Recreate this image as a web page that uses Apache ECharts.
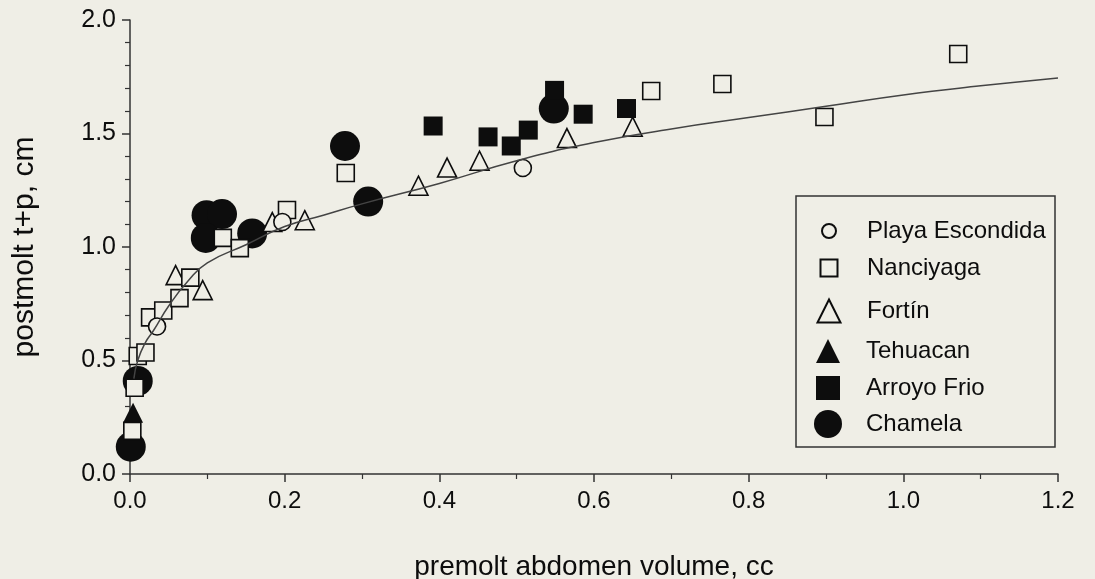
<!DOCTYPE html>
<html>
<head>
<meta charset="utf-8">
<script src="https://cdn.jsdelivr.net/npm/echarts@6/dist/echarts.min.js"></script>
<style>
    html, body { margin: 0; padding: 0; background: #efeee6; }
    #main { width: 1095px; height: 579px; }
</style>
</head>
<body>
<div id="main"></div>
<script type="text/javascript">
    // points: [premolt abdomen volume, postmolt t+p]
    var playaEscondida = [[0.035, 0.65], [0.197, 1.11], [0.508, 1.348]];
    var nanciyaga = [[0.003, 0.19], [0.006, 0.38], [0.010, 0.52], [0.020, 0.535], [0.026, 0.69],
        [0.043, 0.72], [0.064, 0.775], [0.078, 0.865], [0.120, 1.04], [0.142, 0.995],
        [0.203, 1.163], [0.279, 1.326], [0.674, 1.687], [0.766, 1.718], [0.898, 1.573], [1.071, 1.85]];
    var fortin = [[0.059, 0.876], [0.094, 0.81], [0.184, 1.11], [0.226, 1.118], [0.373, 1.27],
        [0.410, 1.35], [0.452, 1.38], [0.565, 1.48], [0.650, 1.53]];
    var tehuacan = [[0.004, 0.27]];
    var arroyoFrio = [[0.392, 1.533], [0.463, 1.485], [0.493, 1.445], [0.515, 1.515],
        [0.549, 1.69], [0.586, 1.585], [0.642, 1.61]];
    var chamela = [[0.001, 0.12], [0.010, 0.41], [0.099, 1.14], [0.119, 1.145], [0.098, 1.04],
        [0.158, 1.06], [0.278, 1.445], [0.308, 1.20], [0.548, 1.61]];

    // fitted curve, read at these x positions
    var curveX = [0.005, 0.01, 0.02, 0.03, 0.05, 0.075, 0.1, 0.15, 0.2, 0.25, 0.3,
        0.4, 0.5, 0.6, 0.7, 0.8, 0.9, 1.0, 1.1, 1.2];
    var curveY = [0.42, 0.50, 0.58, 0.63, 0.74, 0.85, 0.93, 1.01, 1.09, 1.14, 1.19,
        1.28, 1.38, 1.46, 1.52, 1.57, 1.62, 1.67, 1.71, 1.745];

    var xTicks = [0, 0.2, 0.4, 0.6, 0.8, 1.0, 1.2];
    var yTicks = [0, 0.5, 1.0, 1.5, 2.0];

    var bg = '#efeee6';
    var ink = '#0d0d0d';
    var font = '"Liberation Sans", Arial, sans-serif';

    var curve = [];
    for (var i = 0; i < curveX.length; i++) {
        curve.push([curveX[i], curveY[i]]);
    }

    var openStyle = {color: bg, borderColor: ink, borderWidth: 1.6, opacity: 1};
    var solidStyle = {color: ink, borderWidth: 0, opacity: 1};

    // one legend per entry so each icon can keep its own size
    var legendRows = [
        {name: 'Playa Escondida', size: 14, y: 231},
        {name: 'Nanciyaga', size: 17, y: 268},
        {name: 'Fortín', size: 23, y: 311},
        {name: 'Tehuacan', size: 24, y: 351},
        {name: 'Arroyo Frio', size: 24, y: 388},
        {name: 'Chamela', size: 28, y: 424}
    ];
    var legends = legendRows.map(function (r) {
        var left = 828 - r.size / 2;
        return {
            data: [r.name],
            left: left,
            top: r.y - 15,
            padding: 0,
            itemWidth: r.size,
            itemHeight: r.size,
            selectedMode: false,
            textStyle: {
                fontFamily: font, fontSize: 24, color: ink, lineHeight: 30,
                padding: [0, 0, 0, 866 - (left + r.size + 5)]
            }
        };
    });

    var myChart = echarts.init(document.getElementById('main'));
    option = {
        backgroundColor: bg,
        animation: false,
        grid: {left: 130, right: 37, top: 20, bottom: 105, outerBoundsMode: 'none'},
        legend: legends,
        graphic: [{
            type: 'rect',
            shape: {x: 796, y: 196, width: 259, height: 251},
            style: {fill: 'none', stroke: '#333', lineWidth: 1.5}
        }],
        xAxis: {
            type: 'value', min: 0, max: 1.2, interval: 0.2,
            name: 'premolt abdomen volume, cc', nameLocation: 'middle', nameGap: 79,
            nameTextStyle: {fontFamily: font, fontSize: 28, color: ink},
            axisLine: {show: true, onZero: false, lineStyle: {color: '#333', width: 1.5}},
            axisTick: {show: true, length: 8, lineStyle: {color: '#333', width: 1.5}},
            minorTick: {show: true, splitNumber: 2, length: 5, lineStyle: {color: '#333', width: 1.2}},
            splitLine: {show: false},
            axisLabel: {
                fontFamily: font, fontSize: 24, color: ink, margin: 15,
                formatter: function (v) {
                    return xTicks.indexOf(v) >= 0 ? v.toFixed(1) : '';
                }
            }
        },
        yAxis: {
            type: 'value', min: 0, max: 2, interval: 0.5,
            name: 'postmolt t+p, cm', nameLocation: 'middle', nameGap: 90,
            nameTextStyle: {fontFamily: font, fontSize: 30, color: ink},
            axisLine: {show: true, onZero: false, lineStyle: {color: '#333', width: 1.5}},
            axisTick: {show: true, length: 8, lineStyle: {color: '#333', width: 1.5}},
            minorTick: {show: true, splitNumber: 5, length: 5, lineStyle: {color: '#333', width: 1.2}},
            splitLine: {show: false},
            axisLabel: {
                fontFamily: font, fontSize: 25, color: ink, margin: 14,
                formatter: function (v) {
                    return yTicks.indexOf(v) >= 0 ? v.toFixed(1) : '';
                }
            }
        },
        series: [
            {name: 'Chamela', type: 'scatter', symbol: 'circle', symbolSize: 30, data: chamela, itemStyle: solidStyle, z: 2},
            {name: 'Arroyo Frio', type: 'scatter', symbol: 'rect', symbolSize: 19, data: arroyoFrio, itemStyle: solidStyle, z: 3},
            {name: 'Tehuacan', type: 'scatter', symbol: 'triangle', symbolSize: 20, data: tehuacan, itemStyle: solidStyle, z: 3},
            {name: 'Fortín', type: 'scatter', symbol: 'triangle', symbolSize: 19, data: fortin, itemStyle: openStyle, z: 4},
            {name: 'Nanciyaga', type: 'scatter', symbol: 'rect', symbolSize: 17, data: nanciyaga, itemStyle: openStyle, z: 4},
            {name: 'Playa Escondida', type: 'scatter', symbol: 'circle', symbolSize: 17, data: playaEscondida, itemStyle: openStyle, z: 4},
            {
                name: 'fit', type: 'line', data: curve, smooth: true, showSymbol: false, z: 6,
                lineStyle: {color: '#444', width: 1.5}
            }
        ]
    };
    myChart.setOption(option);
</script>
</body>
</html>
